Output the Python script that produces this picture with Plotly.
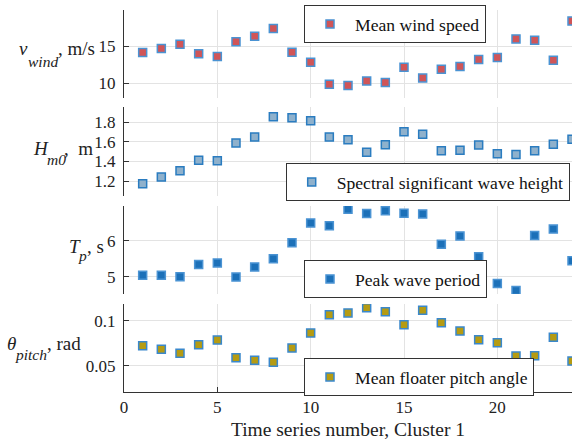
import plotly.graph_objects as go

series_no = list(range(1, 25))
v_wind = [14.15, 14.7, 15.27, 14.0, 13.6, 15.6, 16.35, 17.4, 14.2, 12.84, 9.86, 9.69,
          10.3, 10.1, 12.16, 10.7, 11.9, 12.25, 13.2, 13.47, 15.99, 15.8, 13.1, 18.4]
h_m0 = [1.172, 1.241, 1.305, 1.411, 1.407, 1.588, 1.65, 1.857, 1.847, 1.816, 1.65, 1.622,
        1.493, 1.571, 1.704, 1.677, 1.51, 1.514, 1.568, 1.479, 1.472, 1.51, 1.575, 1.626]
t_p = [5.04, 5.04, 5.0, 5.34, 5.38, 4.99, 5.27, 5.5, 5.94, 6.49, 6.41, 6.87,
       6.75, 6.83, 6.76, 6.74, 5.9, 6.13, 5.55, 4.81, 4.62, 6.14, 6.32, 5.44]
theta_pitch = [0.0724, 0.0683, 0.0638, 0.0735, 0.0787, 0.0590, 0.056, 0.0538, 0.0698, 0.0866,
               0.107, 0.109, 0.1149, 0.1104, 0.0959, 0.112, 0.098, 0.0888, 0.079, 0.0757,
               0.0609, 0.0612, 0.0818, 0.0553]

names = ["Mean wind speed", "Spectral significant wave height", "Peak wave period",
         "Mean floater pitch angle"]
fills = ["#d05558", "#8fb1cc", "#1c70b8", "#b59b12"]
edges = ["#4a93d3", "#2a7cc0", "#4a93d3", "#3a88cc"]
# y-label pieces: (symbol, subscript, unit)
label_sym = ["<i>v</i>", "<i>H</i>", "<i>T</i>", "<i>θ</i>"]
label_sub = ["<i>wind</i>", "<i>m0</i>", "<i>p</i>", "<i>pitch</i>"]
label_unit = [", m/s", ",  m", ", s", ", rad"]
yranges = [[8, 19.9], [1.047, 1.956], [4.52, 6.96], [0.0206, 0.119]]
ytickvals = [[10, 15], [1.2, 1.4, 1.6, 1.8], [5, 6], [0.05, 0.1]]
yticktext = [["10", "15"], ["1.2", "1.4", "1.6", "1.8"], ["5", "6"], ["0.05", "0.1"]]
data = [v_wind, h_m0, t_p, theta_pitch]

# layout (pixels)
W, H = 572, 446
ML, MR, MT, MB = 124, 0, 10, 54
PW, PH = W - ML - MR, H - MT - MB
panel_px = [(10, 98), (107, 196), (206, 294), (304, 392)]
legend_px = [(304, 5), (285.7, 163), (304, 260), (304, 358)]
# label piece x positions (px) and baselines (main, sub)
label_x = [(18, 27, 57), (32, 46, 63), (68, 77, 86), (6, 14, 46)]
label_base = [(55, 67), (155, 165), (253, 261), (350, 360)]

def py(v):
    return (MT + PH - v) / PH

def px(v):
    return (v - ML) / PW

FONT = "Liberation Serif"
FS_MAIN, FS_SUB = 19, 15.5
fig = go.Figure()
layout = dict(
    width=W, height=H,
    margin=dict(l=ML, r=MR, t=MT, b=MB, autoexpand=False),
    paper_bgcolor="white", plot_bgcolor="white",
    font=dict(family=FONT, size=17, color="#222"),
    showlegend=True,
)
annotations = []
for i in range(4):
    k = "" if i == 0 else str(i + 1)
    fig.add_trace(go.Scatter(
        x=series_no, y=data[i], mode="markers", name=names[i],
        marker=dict(symbol="square", size=8, color=fills[i],
                    line=dict(color=edges[i], width=1.5)),
        xaxis="x" + k, yaxis="y" + k, legend="legend" + k,
    ))
    last = i == 3
    layout["xaxis" + k] = dict(
        domain=[0, 1], range=[0, 24], anchor="y" + k,
        tickvals=[0, 5, 10, 15, 20], showgrid=True, gridcolor="#e3e3e3",
        zeroline=False, showline=last, linecolor="#333", linewidth=1,
        ticks="inside" if last else "", ticklen=5, tickcolor="#333",
        showticklabels=last, tickfont=dict(family=FONT, size=17, color="#222"),
        title=dict(text="Time series number, Cluster 1" if last else "",
                   font=dict(family=FONT, size=19.5, color="#222"), standoff=5),
    )
    top, bot = panel_px[i]
    layout["yaxis" + k] = dict(
        domain=[py(bot), py(top)], range=yranges[i], anchor="x" + k,
        tickvals=ytickvals[i], ticktext=yticktext[i],
        showgrid=True, gridcolor="#e3e3e3", zeroline=False,
        showline=True, linecolor="#333", linewidth=1,
        ticks="inside", ticklen=5, tickcolor="#333", ticklabelstandoff=4,
        tickfont=dict(family=FONT, size=17, color="#222"),
    )
    lx, ly = legend_px[i]
    layout["legend" + k] = dict(
        x=px(lx), y=py(ly), xanchor="left", yanchor="top", xref="paper", yref="paper",
        bgcolor="white", bordercolor="#333", borderwidth=1,
        font=dict(family=FONT, size=17.6, color="#111"),
        itemwidth=40,
    )
    xs, xsub, xu = label_x[i]
    bm, bs = label_base[i]
    for txt, xx, base, fs in ((label_sym[i], xs, bm, FS_MAIN),
                              (label_sub[i], xsub, bs, FS_SUB),
                              (label_unit[i], xu, bm, FS_MAIN)):
        annotations.append(dict(
            text=txt, x=px(xx), y=py(base - 0.3375 * fs), xref="paper", yref="paper",
            xanchor="left", yanchor="middle", showarrow=False, borderpad=0,
            font=dict(family=FONT, size=fs, color="#222"),
        ))
layout["annotations"] = annotations
fig.update_layout(**layout)
fig.write_html("out.html")
